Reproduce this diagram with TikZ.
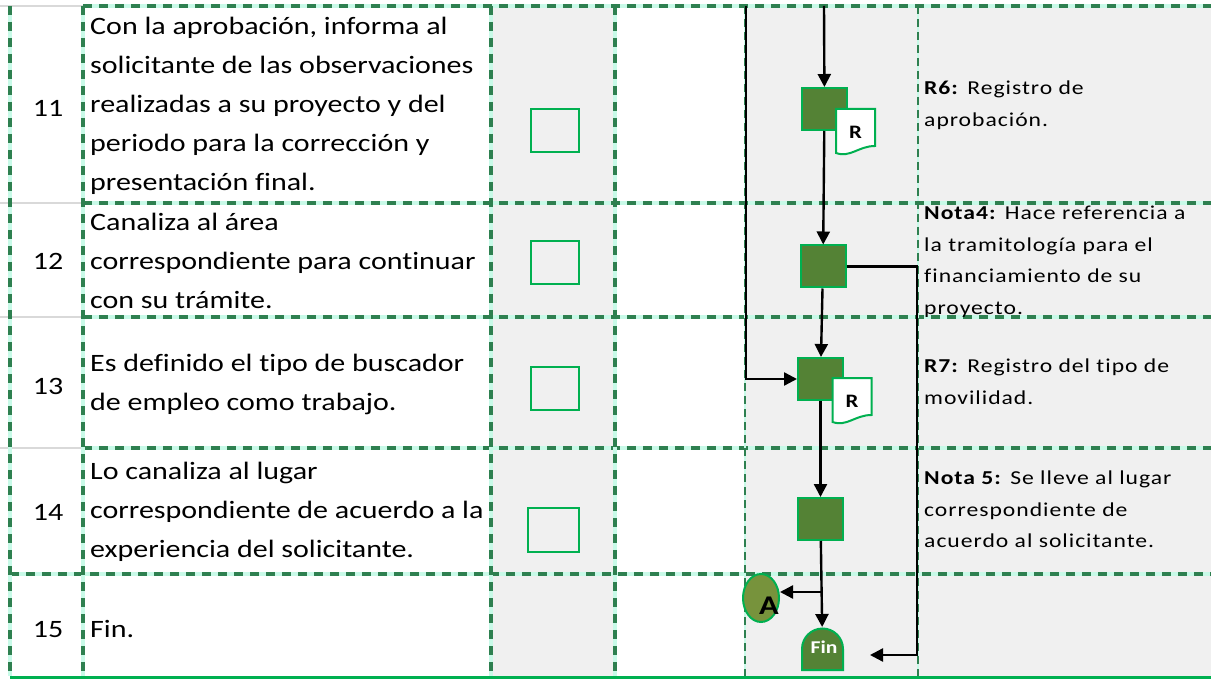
\documentclass[tikz,border=0pt]{standalone}
\usepackage{fontspec}
\setmainfont[FakeStretch=1.2,Ligatures=NoCommon]{Carlito}
\newfontfamily\notafont[FakeStretch=1.2,LetterSpace=5,Ligatures=NoCommon]{Carlito}
\usetikzlibrary{arrows.meta,shapes.geometric}
\definecolor{verdeguia}{RGB}{46,128,80}
\definecolor{menta}{RGB}{200,250,232}
\definecolor{grisfondo}{RGB}{240,240,240}
\definecolor{grislinea}{RGB}{217,217,217}
\definecolor{verdecaja}{RGB}{84,130,53}
\definecolor{verdeborde}{RGB}{0,176,80}
\definecolor{oliva}{RGB}{119,147,60}
\tikzset{
	guia/.style={draw=verdeguia, line width=3.2pt, dash pattern=on 9pt off 7pt, preaction={draw=menta, line width=3.8pt, solid}},
	guiafina/.style={draw=verdeguia, line width=1.5pt, dash pattern=on 8pt off 5pt, preaction={draw=menta, line width=2.8pt, solid}},
	paso/.style={draw=verdeborde, fill=verdecaja, line width=2pt, minimum width=45pt, minimum height=42pt, inner sep=0pt},
	vacia/.style={draw=verdeborde, line width=2pt, minimum width=48pt, minimum height=43pt, inner sep=0pt},
	doc/.style={draw=verdeborde, fill=white, line width=2pt},
	flecha/.style={->, line width=2.4pt},
	num/.style={anchor=base, inner sep=0pt, font=\fontsize{25}{30}\selectfont},
	desc/.style={anchor=north west, align=left, inner sep=0pt, font=\fontsize{25}{39}\selectfont, execute at begin node=\rule{0pt}{20pt}},
	nota/.style={anchor=north west, align=left, inner sep=0pt, font=\notafont\fontsize{19.7}{31.5}\selectfont, execute at begin node=\rule{0pt}{16pt}}
}
\begin{document}
\begin{tikzpicture}[x=1pt, y=-1pt, >={Triangle[length=13pt,width=13pt]}]
	\useasboundingbox (0,0) rectangle (1211,679);
	\fill[grisfondo] (491,6) rectangle (615,676); % columna gris
	\fill[grisfondo] (745,6) rectangle (1211,676); % diagrama y notas
	\foreach \y in {6,203,317,448}{\draw[grislinea, line width=2.5pt] (0,\y) -- (83,\y);}
	\foreach \y in {6,203,317,448}{\draw[guia] (83,\y) -- (1211,\y);}
	\draw[guia] (10,574) -- (1211,574);
	\foreach \x in {10,83,491,615}{\draw[guia] (\x,6) -- (\x,676);}
	\foreach \x in {745,918}{\draw[guiafina] (\x,6) -- (\x,676);}
	\draw[verdeborde, line width=3pt] (10,677) -- (1211,677); % borde inferior
	% numeros
	\foreach \n/\y in {11/117,12/270,13/394,14/520,15/637}{\node[num] (n\n) at (48,\y) {\n};}
	% descripciones
	\node[desc] (t11) at (90,17) {Con la aprobación, informa al\\solicitante de las observaciones\\realizadas a su proyecto y del\\periodo para la corrección y\\presentación final.};
	\node[desc] (t12) at (90,213) {Canaliza al área\\correspondiente para continuar\\con su trámite.};
	\node[desc] (t13) at (90,354) {Es definido el tipo de buscador\\de empleo como trabajo.};
	\node[desc] (t14) at (90,462) {Lo canaliza al lugar\\correspondiente de acuerdo a la\\experiencia del solicitante.};
	\node[desc] (t15) at (90,617) {Fin.};
	% cajas vacias
	\node[vacia] (e11) at (555,131) {};
	\node[vacia] (e12) at (555,262.5) {};
	\node[vacia] (e13) at (555,388) {};
	\node[vacia, minimum width=51pt, minimum height=44pt] (e14) at (553.5,530) {};
	% notas
	\node[nota] (o11) at (924,81) {\textbf{R6:} Registro de\\aprobación.};
	\begin{scope}
		\clip (918,203) rectangle (1211,317);
		\node[nota] (o12) at (924,206) {\textbf{Nota4:} Hace referencia a\\la tramitología para el\\financiamiento de su\\proyecto.};
	\end{scope}
	\node[nota] (o13) at (924,359) {\textbf{R7:} Registro del tipo de\\movilidad.};
	\node[nota] (o14) at (924,471) {\textbf{Nota 5:} Se lleve al lugar\\correspondiente de\\acuerdo al solicitante.};
	% diagrama
	\node[paso] (b11) at (824.5,109) {};
	\node[paso] (b12) at (823,266.5) {};
	\node[paso] (b13) at (820.5,379) {};
	\node[paso] (b14) at (820.5,519) {};
	\foreach \cx/\cy/\nm in {855.5/132/r11, 852/401/r13}{
		\draw[doc] (\cx-19.5,\cy-23) -- (\cx+19.5,\cy-23) -- (\cx+19.5,\cy+14) .. controls (\cx+3,\cy+14) and (\cx-5,\cy+26) .. (\cx-19.5,\cy+21) -- cycle
			node[inner sep=0pt, font=\bfseries\fontsize{19}{19}\selectfont] (\nm) at (\cx,\cy) {R};
	}
	\node[ellipse, draw=verdeborde, fill=oliva, line width=2pt, minimum width=36pt, minimum height=48pt, inner sep=0pt] (a) at (761,598) {};
	\node[anchor=base, inner sep=0pt, font=\bfseries\fontsize{27}{27}\selectfont] (la) at (769,614) {A};
	\draw[draw=verdeborde, fill=verdecaja, line width=2pt] (802,670) -- (843,670) -- (843,649) arc[start angle=0, end angle=180, radius=20.5pt] -- cycle
		node[minimum width=41pt, minimum height=42pt, inner sep=0pt, text=white, font=\bfseries\fontsize{18}{18}\selectfont] (fin) at (822.5,649) {\raisebox{3pt}{\,Fin}};
	% conectores
	\coordinate (ent) at (824,6);
	\coordinate (izq) at (746,6);
	\coordinate (rama) at (821.7,592);
	\coordinate (der) at (917,655);
	\coordinate (llega) at (870,655);
	\draw[flecha] (ent) -- (b11);
	\draw[flecha] (b11) -- (b12);
	\draw[flecha] (b12) -- (b13);
	\draw[flecha] (b13) -- (b14);
	\draw[flecha] (b14) -- (fin);
	\draw[flecha] (rama) -- (rama -| a.east);
	\draw[flecha] (b12.east) -| (der) -- (llega);
	\draw[flecha] (izq) |- (b13.west);
\end{tikzpicture}
\end{document}
